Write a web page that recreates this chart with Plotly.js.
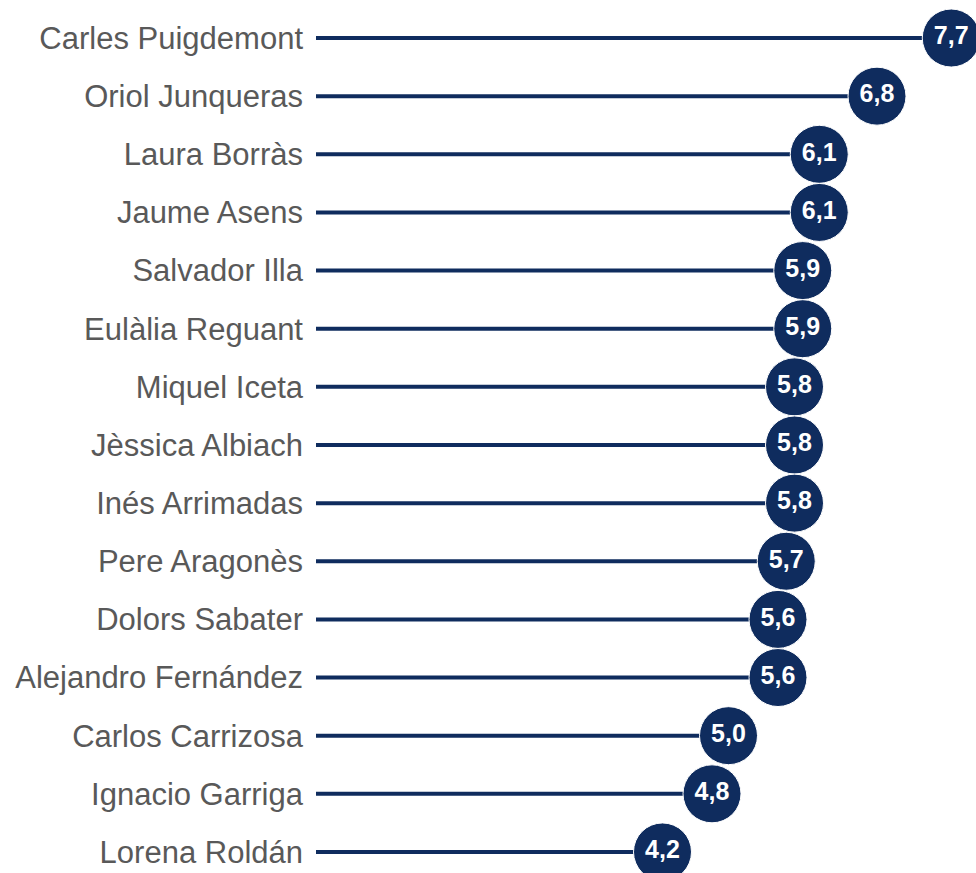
<!DOCTYPE html>
<html>
<head>
<meta charset="utf-8">
<script src="https://cdn.plot.ly/plotly-3.0.1.min.js"></script>
<style>
  html, body { margin: 0; padding: 0; background: #ffffff; }
  #chart { width: 976px; height: 873px; }
</style>
</head>
<body>
<div id="chart"></div>
<script>
const names = [
  'Carles Puigdemont', 'Oriol Junqueras', 'Laura Borràs', 'Jaume Asens',
  'Salvador Illa', 'Eulàlia Reguant', 'Miquel Iceta', 'Jèssica Albiach',
  'Inés Arrimadas', 'Pere Aragonès', 'Dolors Sabater', 'Alejandro Fernández',
  'Carlos Carrizosa', 'Ignacio Garriga', 'Lorena Roldán'
];
const scores = [7.7, 6.8, 6.1, 6.1, 5.9, 5.9, 5.8, 5.8, 5.8, 5.7, 5.6, 5.6, 5.0, 4.8, 4.2];

const navy = '#0f2c5e';
const rows = names.map((_, i) => i);

// stems: one segment per person, from 0 to the score
const stemX = [], stemY = [];
scores.forEach((v, i) => {
  stemX.push(0, v, null);
  stemY.push(i, i, null);
});

const stems = {
  x: stemX,
  y: stemY,
  type: 'scatter',
  mode: 'lines',
  line: { color: navy, width: 4 },
  hoverinfo: 'skip',
  showlegend: false
};

const dots = {
  x: scores,
  y: rows,
  type: 'scatter',
  mode: 'markers+text',
  marker: { size: 58, color: navy, line: { color: '#ffffff', width: 1 } },
  text: scores.map(v => v.toFixed(1).replace('.', ',')),
  textposition: 'middle center',
  textfont: { family: 'Liberation Sans, Arial, sans-serif', size: 25, color: '#ffffff', weight: 'bold' },
  cliponaxis: false,
  showlegend: false
};

const layout = {
  width: 976,
  height: 873,
  margin: { l: 316, r: 0, t: 0, b: 0 },
  paper_bgcolor: '#ffffff',
  plot_bgcolor: '#ffffff',
  font: { family: 'Liberation Sans, Arial, sans-serif' },
  xaxis: {
    range: [0, 8.0],
    showgrid: false,
    zeroline: false,
    showticklabels: false,
    showline: false,
    fixedrange: true
  },
  yaxis: {
    range: [14.362, -0.654],
    tickmode: 'array',
    tickvals: rows,
    ticktext: names,
    tickfont: { size: 31, color: '#595959' },
    ticks: '',
    ticklabelstandoff: 12,
    showgrid: false,
    zeroline: false,
    showline: false,
    fixedrange: true
  }
};

Plotly.newPlot('chart', [stems, dots], layout, { displayModeBar: false, staticPlot: true });
</script>
</body>
</html>
